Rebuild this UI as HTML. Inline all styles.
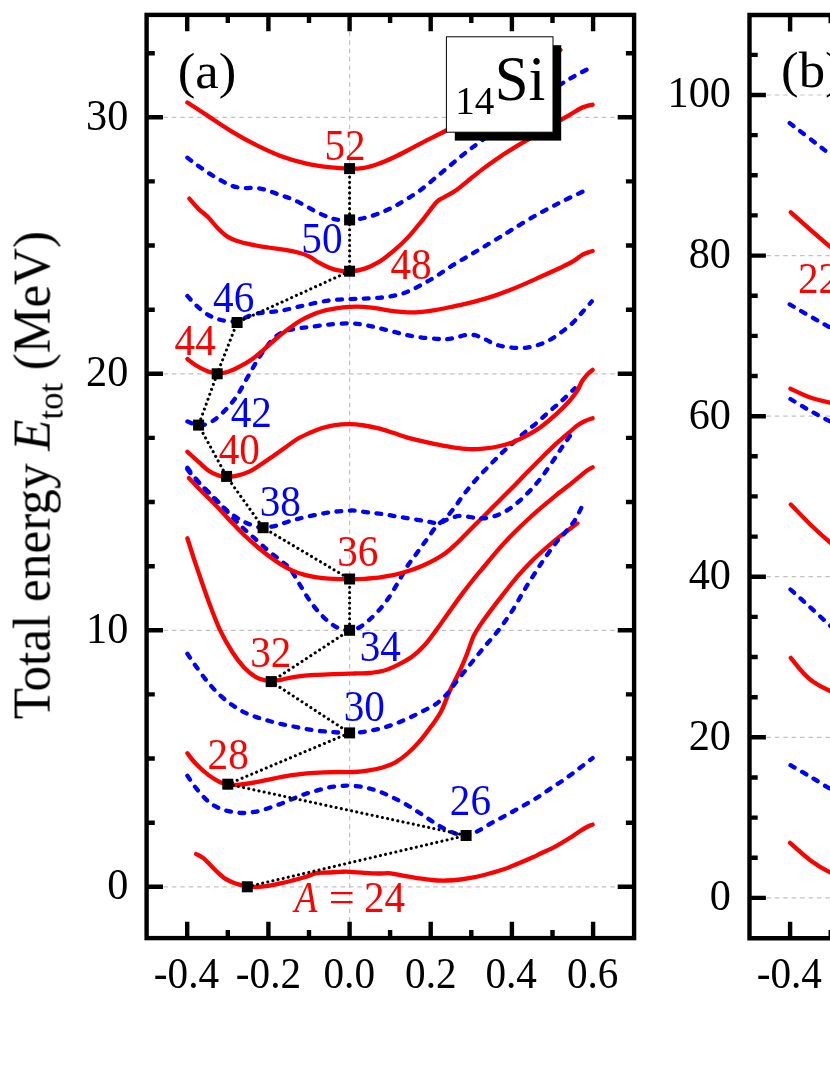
<!DOCTYPE html>
<html><head><meta charset="utf-8"><title>chart</title>
<style>html,body{margin:0;padding:0;background:#fff}body{width:830px;height:1075px;overflow:hidden}svg{display:block}text{font-family:"Liberation Serif",serif}</style>
</head><body>
<svg width="830" height="1075" viewBox="0 0 830 1075">
<rect width="830" height="1075" fill="#fff"/>
<g stroke="#c2c2c2" stroke-width="1.2" stroke-dasharray="4.5 3.93" fill="none">
<path d="M146.6 886.8H634.1"/>
<path d="M146.6 630.3H634.1"/>
<path d="M146.6 373.8H634.1"/>
<path d="M146.6 117.3H634.1"/>
<path d="M349.6 14.9V938.1"/>
<path d="M749.5 897.9H840"/>
<path d="M749.5 737.3H840"/>
<path d="M749.5 576.7H840"/>
<path d="M749.5 416.2H840"/>
<path d="M749.5 255.6H840"/>
<path d="M749.5 95.0H840"/>
</g>
<g fill="none" stroke-width="4.3" stroke-linecap="round" stroke-linejoin="round">
<path d="M196.1 854.0C197.3 854.7 201.0 856.2 203.4 858.1C205.8 860.0 208.2 862.9 210.6 865.3C213.0 867.7 215.4 870.3 217.8 872.5C220.2 874.7 222.7 877.0 225.1 878.6C227.5 880.2 229.9 881.2 232.3 882.2C234.7 883.2 237.0 883.9 239.5 884.6C242.0 885.3 244.4 885.9 247.2 886.3C250.0 886.7 252.9 887.1 256.4 887.0C259.9 886.9 264.4 886.4 268.4 885.8C272.4 885.2 276.5 884.3 280.5 883.4C284.5 882.5 288.5 881.5 292.5 880.5C296.5 879.5 301.0 878.4 304.6 877.3C308.2 876.2 311.8 874.5 314.2 873.7C316.6 873.0 316.6 873.0 319.0 872.8C321.4 872.6 325.1 872.7 328.7 872.5C332.3 872.3 337.2 871.9 340.7 871.8C344.2 871.7 345.7 871.6 349.6 871.8C353.5 872.0 359.3 872.5 364.1 872.8C368.9 873.1 374.2 873.4 378.6 873.5C383.0 873.6 386.6 872.9 390.6 873.3C394.6 873.7 398.3 874.9 402.7 875.7C407.1 876.5 412.3 877.4 417.1 878.1C421.9 878.8 426.8 879.6 431.6 880.0C436.4 880.4 441.2 880.6 446.0 880.5C450.8 880.4 455.7 880.1 460.5 879.5C465.3 878.9 470.1 878.1 474.9 877.1C479.7 876.1 484.6 874.8 489.4 873.5C494.2 872.2 499.1 870.9 503.9 869.2C508.7 867.6 513.5 865.6 518.3 863.6C523.1 861.6 529.0 859.0 532.8 857.3C536.6 855.6 537.4 855.0 541.2 853.2C545.0 851.4 550.9 848.9 555.7 846.3C560.5 843.7 566.1 840.3 570.1 837.8C574.1 835.3 577.0 833.1 579.8 831.3C582.6 829.5 584.9 828.1 587.0 827.0C589.1 825.9 591.7 825.0 592.6 824.6" stroke="#ff0000"/>
<path d="M187.4 775.7C188.8 777.8 192.6 783.9 196.1 788.2C199.6 792.5 204.2 798.0 208.2 801.4C212.2 804.8 216.2 807.0 220.2 808.7C224.2 810.4 228.3 811.1 232.3 811.8C236.3 812.5 240.3 813.0 244.3 813.0C248.3 813.0 252.4 812.4 256.4 811.6C260.4 810.8 264.4 809.5 268.4 808.2C272.4 806.9 276.5 805.4 280.5 803.9C284.5 802.4 288.5 800.6 292.5 799.0C296.5 797.4 300.6 795.6 304.6 794.2C308.6 792.8 312.6 791.7 316.6 790.6C320.6 789.5 324.7 788.3 328.7 787.5C332.7 786.7 337.2 786.3 340.7 786.0C344.2 785.7 345.7 785.4 349.6 785.6C353.5 785.8 359.3 786.2 364.1 787.2C368.9 788.2 373.8 789.6 378.6 791.3C383.4 793.0 388.2 795.3 393.0 797.6C397.8 799.9 402.7 802.5 407.5 805.3C412.3 808.1 417.1 811.4 421.9 814.5C426.7 817.6 431.6 821.2 436.4 824.1C441.2 827.0 445.9 829.8 450.8 831.8C455.7 833.8 461.4 836.0 466.0 835.8C470.6 835.6 474.1 832.9 478.6 830.6C483.1 828.3 488.2 824.9 493.0 822.2C497.8 819.5 502.7 817.1 507.5 814.5C512.3 811.9 517.1 809.2 521.9 806.5C526.7 803.8 531.6 801.1 536.4 798.1C541.2 795.1 546.0 791.6 550.8 788.4C555.6 785.2 560.5 782.2 565.3 778.8C570.1 775.4 575.2 771.5 579.8 768.0C584.3 764.5 590.5 759.7 592.6 758.1" stroke="#0000ff" stroke-dasharray="4.8 8.6"/>
<path d="M187.4 753.3C188.8 755.1 192.6 760.5 196.1 764.1C199.6 767.7 204.2 771.9 208.2 774.9C212.2 777.9 216.9 780.6 220.2 782.2C223.5 783.8 224.8 784.0 228.0 784.4C231.2 784.8 234.8 785.0 239.5 784.6C244.2 784.2 250.8 783.2 256.4 782.2C262.0 781.2 267.7 779.7 273.3 778.6C278.9 777.5 284.5 776.3 290.1 775.4C295.7 774.5 301.4 773.8 307.0 773.3C312.6 772.8 318.3 772.5 323.9 772.3C329.5 772.1 335.6 772.0 340.7 772.0C345.8 772.0 349.8 772.3 354.5 772.0C359.2 771.7 364.1 771.2 368.9 770.4C373.7 769.6 379.0 768.5 383.4 767.2C387.8 765.9 391.4 764.7 395.4 762.4C399.4 760.1 403.5 757.0 407.5 753.5C411.5 750.0 415.5 746.0 419.5 741.4C423.5 736.8 428.0 730.8 431.6 725.8C435.2 720.8 438.2 717.0 441.2 711.3C444.2 705.5 446.6 697.8 449.6 691.3C452.6 684.8 456.5 678.0 459.3 672.0C462.1 666.0 464.1 661.2 466.5 655.2C468.9 649.2 471.3 641.1 473.7 635.9C476.1 630.7 478.2 628.1 481.0 623.9C483.8 619.7 487.0 615.4 490.6 610.6C494.2 605.8 498.3 600.5 502.7 594.9C507.1 589.3 512.3 582.5 517.1 576.9C521.9 571.3 526.8 566.0 531.6 561.2C536.4 556.4 541.2 552.2 546.0 548.0C550.8 543.8 556.5 539.1 560.5 535.9C564.5 532.7 567.3 530.8 570.1 528.7C572.9 526.6 576.1 524.3 577.3 523.4" stroke="#ff0000"/>
<path d="M187.4 653.7C188.8 655.8 192.6 661.7 196.1 666.5C199.6 671.3 204.2 677.8 208.2 682.6C212.2 687.4 216.2 691.6 220.2 695.4C224.2 699.1 228.3 702.3 232.3 705.1C236.3 707.9 240.3 710.3 244.3 712.3C248.3 714.3 252.4 715.7 256.4 717.1C260.4 718.5 264.4 719.6 268.4 720.7C272.4 721.8 276.5 723.0 280.5 723.9C284.5 724.8 288.5 725.5 292.5 726.3C296.5 727.1 300.6 728.0 304.6 728.7C308.6 729.4 312.6 730.1 316.6 730.6C320.6 731.1 325.1 731.5 328.7 731.8C332.3 732.1 334.8 732.3 338.3 732.5C341.8 732.7 345.3 733.1 349.6 733.0C353.9 732.9 359.3 732.5 364.1 731.8C368.9 731.1 373.8 730.1 378.6 728.9C383.4 727.7 388.2 726.3 393.0 724.6C397.8 722.9 402.7 720.8 407.5 718.6C412.3 716.4 417.1 714.1 421.9 711.6C426.7 709.1 432.0 706.9 436.4 703.7C440.8 700.5 445.4 695.8 448.4 692.5C451.4 689.2 451.1 688.5 454.5 684.1C457.9 679.7 464.1 672.0 468.9 666.0C473.7 660.0 478.6 653.8 483.4 648.0C488.2 642.2 493.0 637.3 497.8 631.1C502.6 624.9 507.9 617.4 512.3 610.6C516.7 603.8 520.3 596.7 524.3 590.1C528.3 583.5 532.8 576.4 536.4 570.8C540.0 565.2 542.8 561.0 546.0 556.4C549.2 551.8 552.5 547.1 555.7 543.1C558.9 539.1 562.1 536.1 565.3 532.3C568.5 528.5 572.2 524.4 574.9 520.2C577.6 516.0 580.6 509.2 581.7 507.0" stroke="#0000ff" stroke-dasharray="4.8 8.6"/>
<path d="M187.4 538.2C188.8 542.7 192.6 555.0 196.1 565.3C199.6 575.6 204.2 589.4 208.2 600.2C212.2 611.1 216.2 621.8 220.2 630.4C224.2 639.0 228.3 645.8 232.3 652.0C236.3 658.2 240.3 663.5 244.3 667.7C248.3 671.9 252.8 675.2 256.4 677.3C260.0 679.4 263.5 679.9 266.0 680.5C268.5 681.1 268.9 681.3 271.3 681.2C273.7 681.1 276.6 680.5 280.5 679.8C284.4 679.1 289.3 677.7 294.9 676.9C300.5 676.1 307.8 675.3 314.2 674.9C320.6 674.5 327.6 674.4 333.5 674.2C339.4 674.0 346.1 673.7 349.6 673.6C353.1 673.5 351.3 673.6 354.5 673.5C357.7 673.4 364.1 673.5 368.9 673.0C373.7 672.5 378.6 672.2 383.4 670.8C388.2 669.4 393.0 667.2 397.8 664.8C402.6 662.4 407.9 659.6 412.3 656.4C416.7 653.2 420.3 649.9 424.3 645.5C428.3 641.1 432.4 635.3 436.4 629.9C440.4 624.5 444.4 618.6 448.4 613.0C452.4 607.4 456.5 601.5 460.5 596.1C464.5 590.7 468.5 585.5 472.5 580.5C476.5 575.5 480.6 570.8 484.6 566.0C488.6 561.2 492.6 556.2 496.6 551.6C500.6 547.0 504.7 542.5 508.7 538.3C512.7 534.1 516.7 530.2 520.7 526.3C524.7 522.4 529.4 518.1 532.8 515.0C536.2 511.9 537.4 510.8 541.2 507.6C545.0 504.4 550.9 499.5 555.7 495.6C560.5 491.7 566.1 487.6 570.1 484.4C574.1 481.2 577.0 478.7 579.8 476.4C582.6 474.1 584.9 472.1 587.0 470.6C589.1 469.1 591.7 467.8 592.6 467.3" stroke="#ff0000"/>
<path d="M187.4 469.4C188.8 471.1 192.6 476.1 196.1 479.8C199.6 483.5 204.2 487.8 208.2 491.8C212.2 495.8 216.2 499.7 220.2 503.9C224.2 508.1 228.3 512.9 232.3 517.1C236.3 521.3 240.3 525.4 244.3 529.2C248.3 533.0 252.4 536.4 256.4 540.0C260.4 543.6 264.4 547.4 268.4 550.8C272.4 554.2 276.9 557.5 280.5 560.5C284.1 563.5 286.9 564.9 290.1 568.9C293.3 572.9 296.6 579.4 299.8 584.6C303.0 589.8 306.2 595.6 309.4 600.2C312.6 604.8 315.8 608.7 319.0 612.3C322.2 615.9 325.5 619.3 328.7 621.9C331.9 624.5 334.8 626.6 338.3 628.0C341.8 629.4 346.1 630.5 349.6 630.4C353.1 630.3 356.1 629.2 359.3 627.5C362.5 625.8 365.7 623.0 368.9 620.2C372.1 617.4 375.4 614.2 378.6 610.6C381.8 607.0 385.0 603.2 388.2 598.6C391.4 594.0 394.6 588.3 397.8 582.9C401.0 577.5 404.3 571.0 407.5 566.0C410.7 561.0 413.9 557.2 417.1 552.8C420.3 548.4 423.5 543.9 426.7 539.5C429.9 535.1 433.2 529.9 436.4 526.3C439.6 522.7 442.8 521.2 446.0 517.8C449.2 514.4 452.5 510.0 455.7 505.8C458.9 501.6 461.9 496.9 465.3 492.5C468.7 488.1 472.3 483.9 476.1 479.6C479.9 475.3 484.2 471.0 488.2 466.8C492.2 462.6 496.2 458.4 500.2 454.5C504.2 450.6 508.3 447.2 512.3 443.6C516.3 440.0 520.3 436.2 524.3 432.8C528.3 429.4 532.4 426.5 536.4 423.1C540.4 419.7 544.4 415.8 548.4 412.3C552.4 408.8 556.9 405.1 560.5 401.9C564.1 398.7 567.7 395.3 570.1 393.0C572.5 390.7 574.1 389.0 574.9 388.2" stroke="#0000ff" stroke-dasharray="4.8 8.6"/>
<path d="M188.9 478.1C190.5 479.8 195.4 484.9 198.6 488.2C201.8 491.5 204.6 494.2 208.2 497.8C211.8 501.4 216.2 505.7 220.2 509.9C224.2 514.1 228.3 518.9 232.3 523.1C236.3 527.3 240.3 531.4 244.3 535.2C248.3 539.0 252.4 542.6 256.4 546.0C260.4 549.4 264.4 552.7 268.4 555.7C272.4 558.7 276.5 561.6 280.5 564.1C284.5 566.6 288.5 568.8 292.5 570.6C296.5 572.4 300.6 573.8 304.6 574.9C308.6 576.0 312.6 576.7 316.6 577.3C320.6 577.9 323.2 578.3 328.7 578.6C334.2 578.9 343.7 579.2 349.6 579.2C355.5 579.2 359.3 579.1 364.1 578.8C368.9 578.5 373.8 578.2 378.6 577.6C383.4 577.0 388.2 576.2 393.0 575.2C397.8 574.2 402.7 572.8 407.5 571.3C412.3 569.8 417.1 568.1 421.9 566.0C426.7 563.9 432.4 561.0 436.4 558.8C440.4 556.6 442.8 555.2 446.0 552.8C449.2 550.4 452.5 547.3 455.7 544.3C458.9 541.3 462.1 537.9 465.3 534.7C468.5 531.5 471.7 528.3 474.9 525.1C478.1 521.9 481.4 518.6 484.6 515.4C487.8 512.2 491.0 509.0 494.2 505.8C497.4 502.6 500.7 499.3 503.9 496.1C507.1 492.9 509.7 490.4 513.5 486.5C517.3 482.6 522.1 477.5 526.7 472.8C531.3 468.1 536.4 463.0 541.2 458.2C546.0 453.4 550.9 448.6 555.7 444.2C560.5 439.8 566.5 434.7 570.1 431.6C573.7 428.5 574.9 427.2 577.3 425.5C579.7 423.8 582.0 422.4 584.6 421.2C587.2 420.0 591.3 418.7 592.6 418.2" stroke="#ff0000"/>
<path d="M187.4 467.8C188.8 469.7 192.6 474.9 196.1 479.0C199.6 483.1 204.2 488.1 208.2 492.3C212.2 496.6 216.2 500.8 220.2 504.5C224.2 508.2 228.3 511.7 232.3 514.6C236.3 517.5 240.3 520.0 244.3 522.0C248.3 524.0 253.3 525.6 256.4 526.6C259.5 527.6 259.9 527.8 263.1 527.7C266.3 527.6 271.2 526.9 275.7 525.8C280.2 524.7 285.3 522.4 290.1 521.0C294.9 519.6 299.0 518.6 304.6 517.3C310.2 516.0 318.3 514.3 323.9 513.3C329.5 512.3 334.0 511.8 338.3 511.3C342.6 510.9 346.9 510.7 349.6 510.6C352.3 510.5 351.3 510.3 354.5 510.6C357.7 510.9 364.1 511.9 368.9 512.5C373.7 513.1 378.6 513.5 383.4 514.2C388.2 514.9 393.0 515.8 397.8 516.6C402.6 517.4 407.5 518.2 412.3 519.0C417.1 519.8 422.3 520.7 426.7 521.4C431.1 522.1 435.2 523.5 438.8 523.1C442.4 522.7 444.8 520.2 448.4 519.0C452.0 517.8 456.1 516.1 460.5 515.9C464.9 515.7 470.9 517.4 474.9 517.8C478.9 518.2 481.0 518.7 484.6 518.3C488.2 517.9 492.6 516.9 496.6 515.4C500.6 513.9 504.7 512.0 508.7 509.4C512.7 506.8 516.7 503.4 520.7 499.8C524.7 496.2 529.0 491.9 532.8 487.7C536.6 483.5 539.8 479.6 543.6 474.5C547.4 469.4 552.1 462.2 555.7 456.9C559.3 451.5 562.1 447.0 565.3 442.4C568.5 437.8 573.3 431.4 574.9 429.2" stroke="#0000ff" stroke-dasharray="4.8 8.6"/>
<path d="M187.4 451.8C189.3 453.5 195.1 458.8 198.6 461.9C202.1 465.0 205.0 468.2 208.2 470.4C211.4 472.6 214.7 474.1 217.8 475.2C220.9 476.3 223.5 477.0 226.7 477.1C229.9 477.2 233.3 476.6 237.1 475.7C240.8 474.8 245.2 473.5 249.2 471.6C253.2 469.7 257.2 466.9 261.2 464.3C265.2 461.7 269.3 458.7 273.3 455.9C277.3 453.1 281.3 450.3 285.3 447.5C289.3 444.7 293.3 441.4 297.3 439.0C301.3 436.6 305.4 434.8 309.4 433.0C313.4 431.2 317.4 429.5 321.4 428.2C325.4 426.9 328.8 426.0 333.5 425.3C338.2 424.6 344.5 424.2 349.6 424.2C354.7 424.2 359.3 424.8 364.1 425.5C368.9 426.2 373.8 427.2 378.6 428.4C383.4 429.6 388.2 431.3 393.0 432.8C397.8 434.3 402.7 436.2 407.5 437.6C412.3 439.0 417.1 440.1 421.9 441.2C426.7 442.3 431.0 443.2 436.4 444.3C441.8 445.4 449.1 446.9 454.5 447.7C459.9 448.5 464.1 449.0 468.9 449.2C473.7 449.4 478.6 449.1 483.4 448.7C488.2 448.2 493.0 447.6 497.8 446.5C502.6 445.4 507.5 444.2 512.3 442.4C517.1 440.6 521.9 438.3 526.7 435.7C531.5 433.1 536.4 430.2 541.2 426.7C546.0 423.2 550.9 419.1 555.7 414.7C560.5 410.3 566.5 404.2 570.1 400.2C573.7 396.2 575.3 393.8 577.3 390.6C579.3 387.4 580.6 383.6 582.2 381.0C583.8 378.4 585.3 376.8 587.0 374.9C588.7 373.0 591.7 370.7 592.6 369.9" stroke="#ff0000"/>
<path d="M187.4 421.5C189.3 422.1 195.1 425.0 198.6 425.3C202.1 425.6 205.0 424.7 208.2 423.4C211.4 422.1 214.6 419.9 217.8 417.3C221.0 414.7 224.3 411.3 227.5 407.7C230.7 404.1 233.9 400.5 237.1 395.7C240.3 390.9 243.5 384.4 246.7 378.8C249.9 373.2 253.2 367.1 256.4 361.9C259.6 356.7 262.8 351.7 266.0 347.5C269.2 343.3 272.5 339.3 275.7 336.6C278.9 333.9 282.1 332.4 285.3 331.1C288.5 329.8 290.9 329.6 294.9 328.9C298.9 328.2 303.8 327.7 309.4 327.0C315.0 326.3 322.0 325.2 328.7 324.6C335.4 324.0 343.7 323.3 349.6 323.3C355.5 323.3 359.3 324.0 364.1 324.8C368.9 325.6 373.8 326.9 378.6 328.0C383.4 329.1 388.2 330.4 393.0 331.6C397.8 332.8 402.7 334.2 407.5 335.2C412.3 336.2 417.1 337.0 421.9 337.6C426.7 338.2 432.4 338.5 436.4 338.8C440.4 339.1 442.8 339.5 446.0 339.3C449.2 339.1 452.5 338.3 455.7 337.6C458.9 336.9 462.1 335.6 465.3 335.2C468.5 334.8 471.7 334.6 474.9 335.2C478.1 335.8 481.2 337.5 484.6 339.0C488.0 340.5 491.4 343.0 495.4 344.4C499.4 345.8 504.1 346.6 508.7 347.2C513.3 347.8 518.5 348.3 523.1 348.0C527.7 347.7 532.2 346.7 536.4 345.5C540.6 344.3 544.4 342.8 548.4 340.7C552.4 338.6 556.5 335.7 560.5 332.8C564.5 329.9 568.9 326.5 572.5 323.1C576.1 319.7 579.0 315.9 582.2 312.3C585.4 308.7 590.2 303.2 591.8 301.4" stroke="#0000ff" stroke-dasharray="4.8 8.6"/>
<path d="M187.4 359.0C188.8 360.1 192.6 363.4 196.1 365.5C199.6 367.6 204.7 370.3 208.2 371.6C211.7 372.9 213.9 373.4 217.1 373.5C220.3 373.6 223.8 373.1 227.5 372.0C231.2 370.9 235.5 368.8 239.5 366.7C243.5 364.6 247.6 362.3 251.6 359.5C255.6 356.7 259.6 353.3 263.6 349.9C267.6 346.5 271.7 342.4 275.7 339.0C279.7 335.6 283.7 332.4 287.7 329.4C291.7 326.4 295.8 323.4 299.8 321.0C303.8 318.6 307.8 316.6 311.8 314.9C315.8 313.2 319.9 311.9 323.9 310.8C327.9 309.7 331.6 309.1 335.9 308.4C340.2 307.7 344.9 307.1 349.6 306.8C354.3 306.5 359.3 306.5 364.1 306.8C368.9 307.1 373.8 308.0 378.6 308.7C383.4 309.4 388.2 310.5 393.0 311.1C397.8 311.7 402.7 312.2 407.5 312.3C412.3 312.4 417.1 312.2 421.9 311.8C426.7 311.4 431.6 310.7 436.4 309.9C441.2 309.1 446.0 308.0 450.8 307.0C455.6 306.0 460.5 305.0 465.3 303.9C470.1 302.8 475.0 301.5 479.8 300.2C484.6 298.9 489.4 297.5 494.2 295.9C499.0 294.3 503.9 292.5 508.7 290.6C513.5 288.7 518.5 286.6 523.1 284.6C527.7 282.6 530.2 281.4 536.4 278.6C542.6 275.8 554.5 270.5 560.5 267.7C566.5 264.9 568.9 263.8 572.5 261.7C576.1 259.6 579.4 256.5 582.2 254.9C585.0 253.3 587.7 252.7 589.4 252.0C591.1 251.3 592.1 251.1 592.6 251.0" stroke="#ff0000"/>
<path d="M187.4 296.0C188.8 297.5 192.6 302.1 196.1 305.3C199.6 308.5 204.2 312.5 208.2 314.9C212.2 317.3 216.2 318.7 220.2 319.8C224.2 320.9 228.7 321.6 232.3 321.5C235.9 321.4 237.9 320.3 241.9 319.0C245.9 317.7 250.0 315.1 256.4 313.7C262.8 312.3 272.5 312.2 280.5 310.8C288.5 309.4 296.6 307.0 304.6 305.3C312.6 303.6 321.2 301.5 328.7 300.5C336.2 299.5 343.7 299.4 349.6 299.1C355.5 298.8 359.3 298.8 364.1 298.6C368.9 298.4 373.8 298.2 378.6 297.8C383.4 297.4 388.2 296.9 393.0 295.9C397.8 294.9 402.7 293.7 407.5 291.8C412.3 289.9 417.1 287.2 421.9 284.6C426.7 282.0 431.6 279.1 436.4 276.1C441.2 273.1 446.0 269.6 450.8 266.5C455.6 263.4 460.5 260.7 465.3 257.8C470.1 254.9 475.0 252.1 479.8 249.2C484.6 246.3 488.8 243.9 494.2 240.6C499.6 237.3 505.3 233.8 512.3 229.5C519.3 225.2 528.4 219.5 536.4 215.0C544.4 210.5 552.8 206.2 560.5 202.3C568.2 198.4 578.9 193.5 582.6 191.7" stroke="#0000ff" stroke-dasharray="4.8 8.6"/>
<path d="M189.4 198.6C190.9 200.3 195.5 205.8 198.6 208.9C201.7 212.0 205.0 214.1 208.2 217.3C211.4 220.5 214.6 225.0 217.8 228.2C221.0 231.4 224.3 234.5 227.5 236.6C230.7 238.7 233.1 239.7 237.1 241.0C241.1 242.3 246.4 243.5 251.6 244.6C256.8 245.7 262.8 246.6 268.4 247.5C274.0 248.4 280.1 249.0 285.3 249.9C290.5 250.8 295.8 251.9 299.8 253.0C303.8 254.1 306.2 255.0 309.4 256.6C312.6 258.2 315.8 260.9 319.0 262.7C322.2 264.5 325.5 266.2 328.7 267.5C331.9 268.8 334.8 269.8 338.3 270.4C341.8 271.0 345.3 271.6 349.6 271.4C353.9 271.1 359.3 270.4 364.1 268.9C368.9 267.4 373.8 265.1 378.6 262.2C383.4 259.3 388.2 255.4 393.0 251.4C397.8 247.4 402.7 243.0 407.5 237.9C412.3 232.8 417.1 226.7 421.9 220.8C426.7 214.9 432.8 206.2 436.4 202.3C440.0 198.4 440.4 199.4 443.6 197.5C446.8 195.6 451.3 193.7 455.7 190.6C460.1 187.5 465.3 182.8 470.1 179.0C474.9 175.2 479.8 171.2 484.6 167.6C489.4 164.0 494.2 160.7 499.0 157.4C503.8 154.2 508.7 151.1 513.5 148.1C518.3 145.1 522.8 142.7 528.0 139.6C533.2 136.5 539.5 132.8 545.0 129.5C550.5 126.2 556.9 122.3 561.2 119.7C565.5 117.1 567.6 116.0 570.9 114.1C574.2 112.1 578.5 109.4 581.2 108.0C583.9 106.6 585.4 106.5 587.3 105.9C589.2 105.3 591.7 104.9 592.6 104.7" stroke="#ff0000"/>
<path d="M187.4 157.7C188.8 158.8 192.6 161.8 196.1 164.3C199.6 166.8 204.2 170.2 208.2 172.8C212.2 175.4 216.2 177.8 220.2 180.0C224.2 182.2 228.3 184.7 232.3 186.0C236.3 187.3 240.3 187.8 244.3 188.1C248.3 188.4 252.4 187.5 256.4 187.9C260.4 188.3 264.4 189.5 268.4 190.7C272.4 191.9 276.5 193.8 280.5 195.2C284.5 196.6 288.5 197.6 292.5 199.3C296.5 201.0 300.6 203.2 304.6 205.3C308.6 207.4 312.6 210.0 316.6 212.0C320.6 214.0 325.1 216.0 328.7 217.3C332.3 218.6 334.8 219.3 338.3 219.8C341.8 220.3 345.3 220.5 349.6 220.2C353.9 219.9 359.3 219.1 364.1 218.0C368.9 216.9 373.8 215.4 378.6 213.6C383.4 211.8 388.2 209.6 393.0 207.1C397.8 204.6 402.7 201.7 407.5 198.7C412.3 195.7 417.1 192.6 421.9 189.0C426.7 185.4 431.6 181.0 436.4 177.0C441.2 173.0 446.0 168.9 450.8 164.9C455.6 160.9 460.5 156.7 465.3 152.9C470.1 149.1 474.0 146.3 479.8 142.0C485.6 137.7 491.6 133.2 500.0 127.0C508.4 120.8 519.9 112.1 530.0 105.0C540.1 97.9 553.0 89.4 560.5 84.5C568.0 79.6 570.6 78.3 575.0 75.8C579.4 73.3 585.0 70.5 587.0 69.5" stroke="#0000ff" stroke-dasharray="4.8 8.6"/>
<path d="M187.4 102.5C190.9 104.7 200.7 111.2 208.2 116.1C215.7 121.0 224.3 127.0 232.3 131.8C240.3 136.6 248.4 141.1 256.4 145.1C264.4 149.1 272.5 152.9 280.5 155.9C288.5 158.9 296.6 161.2 304.6 163.1C312.6 165.0 321.2 166.3 328.7 167.2C336.2 168.1 343.7 168.6 349.6 168.7C355.5 168.8 359.3 168.6 364.1 167.8C368.9 167.0 373.8 165.4 378.6 163.7C383.4 162.0 388.2 159.9 393.0 157.7C397.8 155.5 402.7 153.0 407.5 150.5C412.3 148.0 417.1 145.3 421.9 142.8C426.7 140.3 432.2 137.6 436.4 135.5C440.6 133.4 441.6 133.1 447.2 130.0C452.8 126.9 461.2 122.5 470.0 117.0C478.8 111.5 490.0 104.2 500.0 97.0C510.0 89.8 521.7 80.5 530.0 74.0C538.3 67.5 544.9 62.0 550.0 58.0C555.1 54.0 558.8 51.3 560.5 50.0" stroke="#ff0000"/>
<path d="M789.7 123.1C796.4 128.3 820.0 146.5 830.0 154.3C840.0 162.1 846.7 167.4 850.0 170.0" stroke="#0000ff" stroke-dasharray="4.8 8.6"/>
<path d="M790.8 212.3C797.3 218.1 820.1 238.3 830.0 246.6C839.9 254.9 846.7 259.4 850.0 262.0" stroke="#ff0000"/>
<path d="M789.7 304.4C795.4 307.7 813.7 318.4 823.7 324.0C833.8 329.6 845.6 335.7 850.0 338.0" stroke="#0000ff" stroke-dasharray="4.8 8.6"/>
<path d="M790.5 388.7C793.7 390.1 803.0 394.9 809.6 397.2C816.2 399.5 823.3 401.1 830.0 402.6C836.7 404.1 846.7 405.4 850.0 406.0" stroke="#ff0000"/>
<path d="M790.5 399.0C793.7 400.9 803.0 406.8 809.6 410.5C816.2 414.2 823.3 418.0 830.0 421.4C836.7 424.8 846.7 429.4 850.0 431.0" stroke="#0000ff" stroke-dasharray="4.8 8.6"/>
<path d="M790.8 504.5C793.9 507.7 803.1 517.4 809.6 523.7C816.1 530.0 823.3 536.5 830.0 542.5C836.7 548.5 846.7 557.1 850.0 560.0" stroke="#ff0000"/>
<path d="M790.5 589.5C793.7 592.4 803.0 600.7 809.6 606.7C816.2 612.7 823.3 619.5 830.0 625.5C836.7 631.5 846.7 640.1 850.0 643.0" stroke="#0000ff" stroke-dasharray="4.8 8.6"/>
<path d="M790.8 657.9C792.6 660.1 798.1 667.4 801.8 671.3C805.5 675.2 808.1 678.2 812.8 681.5C817.5 684.8 823.8 688.3 830.0 690.9C836.2 693.5 846.7 696.0 850.0 697.0" stroke="#ff0000"/>
<path d="M790.5 765.2C793.7 767.0 803.0 772.4 809.6 776.3C816.2 780.2 823.3 784.8 830.0 788.8C836.7 792.8 846.7 798.1 850.0 800.0" stroke="#0000ff" stroke-dasharray="4.8 8.6"/>
<path d="M790.0 842.9C793.4 845.8 803.8 855.5 810.5 860.4C817.2 865.3 823.4 869.0 830.0 872.3C836.6 875.6 846.7 878.7 850.0 880.0" stroke="#ff0000"/>
</g>
<path d="M247.3 886.8L466.1 835.5L227.8 784.2L349.6 732.9L271.2 681.6L349.6 630.3L349.6 579.0L263.1 527.7L226.6 476.4L198.6 425.1L217.2 373.8L237.1 322.5L349.6 271.2L349.6 219.9L349.6 168.6" fill="none" stroke="#000" stroke-width="3.1" stroke-linecap="round" stroke-dasharray="0.01 5.25"/>
<rect x="241.8" y="881.3" width="11" height="11" fill="#000"/>
<rect x="460.6" y="830.0" width="11" height="11" fill="#000"/>
<rect x="222.3" y="778.7" width="11" height="11" fill="#000"/>
<rect x="344.1" y="727.4" width="11" height="11" fill="#000"/>
<rect x="265.7" y="676.1" width="11" height="11" fill="#000"/>
<rect x="344.1" y="624.8" width="11" height="11" fill="#000"/>
<rect x="344.1" y="573.5" width="11" height="11" fill="#000"/>
<rect x="257.6" y="522.2" width="11" height="11" fill="#000"/>
<rect x="221.1" y="470.9" width="11" height="11" fill="#000"/>
<rect x="193.1" y="419.6" width="11" height="11" fill="#000"/>
<rect x="211.7" y="368.3" width="11" height="11" fill="#000"/>
<rect x="231.6" y="317.0" width="11" height="11" fill="#000"/>
<rect x="344.1" y="265.7" width="11" height="11" fill="#000"/>
<rect x="344.1" y="214.4" width="11" height="11" fill="#000"/>
<rect x="344.1" y="163.1" width="11" height="11" fill="#000"/>
<g stroke="#000" fill="none" stroke-width="4.4" stroke-linecap="butt">
<rect x="146.6" y="14.9" width="487.5" height="923.2"/>
<path d="M860 15.0H749.5V938.2H860"/>
<path d="M187.2 14.9v16.4M187.2 938.1v-16.4M227.8 14.9v8.2M227.8 938.1v-8.2M268.4 14.9v16.4M268.4 938.1v-16.4M309.0 14.9v8.2M309.0 938.1v-8.2M349.6 14.9v16.4M349.6 938.1v-16.4M390.1 14.9v8.2M390.1 938.1v-8.2M430.7 14.9v16.4M430.7 938.1v-16.4M471.3 14.9v8.2M471.3 938.1v-8.2M511.9 14.9v16.4M511.9 938.1v-16.4M552.5 14.9v8.2M552.5 938.1v-8.2M593.1 14.9v16.4M593.1 938.1v-16.4M146.6 886.8h16.4M634.1 886.8h-16.4M146.6 822.7h8.2M634.1 822.7h-8.2M146.6 758.5h8.2M634.1 758.5h-8.2M146.6 694.4h8.2M634.1 694.4h-8.2M146.6 630.3h16.4M634.1 630.3h-16.4M146.6 566.2h8.2M634.1 566.2h-8.2M146.6 502.0h8.2M634.1 502.0h-8.2M146.6 437.9h8.2M634.1 437.9h-8.2M146.6 373.8h16.4M634.1 373.8h-16.4M146.6 309.7h8.2M634.1 309.7h-8.2M146.6 245.5h8.2M634.1 245.5h-8.2M146.6 181.4h8.2M634.1 181.4h-8.2M146.6 117.3h16.4M634.1 117.3h-16.4M146.6 53.2h8.2M634.1 53.2h-8.2M790.1 15.0v16.4M790.1 938.2v-16.4M830.7 15.0v8.2M830.7 938.2v-8.2M871.3 15.0v16.4M871.3 938.2v-16.4M911.9 15.0v8.2M911.9 938.2v-8.2M952.5 15.0v16.4M952.5 938.2v-16.4M993.0 15.0v8.2M993.0 938.2v-8.2M749.5 897.9h16.4M749.5 857.8h8.2M749.5 817.6h8.2M749.5 777.5h8.2M749.5 737.3h16.4M749.5 697.2h8.2M749.5 657.0h8.2M749.5 616.9h8.2M749.5 576.7h16.4M749.5 536.6h8.2M749.5 496.4h8.2M749.5 456.3h8.2M749.5 416.2h16.4M749.5 376.0h8.2M749.5 335.9h8.2M749.5 295.7h8.2M749.5 255.6h16.4M749.5 215.4h8.2M749.5 175.3h8.2M749.5 135.1h8.2M749.5 95.0h16.4M749.5 54.9h8.2"/>
</g>
<rect x="454.8" y="45.2" width="106.4" height="95.4" fill="#000"/>
<rect x="446.4" y="36.8" width="106.6" height="95.4" fill="#fff" stroke="#000" stroke-width="1"/>
<defs><filter id="idf" x="0" y="0" width="830" height="1075" filterUnits="userSpaceOnUse"><feOffset dx="0" dy="0"/></filter></defs><g filter="url(#idf)">
<text transform="translate(455.16 114.30) scale(0.9550 1)" font-size="41.00" fill="#000">14</text>
<text transform="translate(494.84 99.50) scale(0.9550 1)" font-size="63.60" fill="#000">Si</text>
<text transform="translate(153.85 988.00) scale(0.9450 1)" font-size="43.60" fill="#000">-0.4</text>
<text transform="translate(235.84 988.00) scale(0.9450 1)" font-size="43.60" fill="#000">-0.2</text>
<text transform="translate(323.51 988.00) scale(0.9450 1)" font-size="43.60" fill="#000">0.0</text>
<text transform="translate(405.04 988.00) scale(0.9450 1)" font-size="43.60" fill="#000">0.2</text>
<text transform="translate(485.41 988.00) scale(0.9450 1)" font-size="43.60" fill="#000">0.4</text>
<text transform="translate(566.88 988.00) scale(0.9450 1)" font-size="43.60" fill="#000">0.6</text>
<text transform="translate(756.74 988.30) scale(0.9450 1)" font-size="43.60" fill="#000">-0.4</text>
<text transform="translate(107.16 899.20) scale(0.9700 1)" font-size="43.60" fill="#000">0</text>
<text transform="translate(86.02 642.70) scale(0.9700 1)" font-size="43.60" fill="#000">10</text>
<text transform="translate(86.02 386.20) scale(0.9700 1)" font-size="43.60" fill="#000">20</text>
<text transform="translate(86.02 129.70) scale(0.9700 1)" font-size="43.60" fill="#000">30</text>
<text transform="translate(709.86 910.30) scale(0.9700 1)" font-size="43.60" fill="#000">0</text>
<text transform="translate(688.72 749.72) scale(0.9700 1)" font-size="43.60" fill="#000">20</text>
<text transform="translate(688.72 589.14) scale(0.9700 1)" font-size="43.60" fill="#000">40</text>
<text transform="translate(688.72 428.56) scale(0.9700 1)" font-size="43.60" fill="#000">60</text>
<text transform="translate(688.72 267.98) scale(0.9700 1)" font-size="43.60" fill="#000">80</text>
<text transform="translate(667.57 107.40) scale(0.9700 1)" font-size="43.60" fill="#000">100</text>
<text transform="translate(177.68 88.20) scale(1.0350 1)" font-size="51.00" fill="#000">(a)</text>
<text transform="translate(781.08 87.20) scale(1.0350 1)" font-size="51.00" fill="#000">(b)</text>
<text transform="translate(49.6 719.3) rotate(-90) scale(0.985 1)" font-size="52" fill="#000">Total energy <tspan font-style="italic">E</tspan><tspan font-size="35" dy="13">tot</tspan><tspan dy="-13"> (MeV)</tspan></text>
<text transform="translate(324.49 160.10) scale(0.9450 1)" font-size="43.60" fill="#ff0000">52</text>
<text transform="translate(301.29 252.60) scale(0.9450 1)" font-size="43.60" fill="#0000ff">50</text>
<text transform="translate(390.48 279.00) scale(0.9450 1)" font-size="43.60" fill="#ff0000">48</text>
<text transform="translate(213.11 311.50) scale(0.9450 1)" font-size="43.60" fill="#0000ff">46</text>
<text transform="translate(174.62 355.20) scale(0.9450 1)" font-size="43.60" fill="#ff0000">44</text>
<text transform="translate(230.63 426.50) scale(0.9450 1)" font-size="43.60" fill="#0000ff">42</text>
<text transform="translate(218.68 463.60) scale(0.9450 1)" font-size="43.60" fill="#ff0000">40</text>
<text transform="translate(259.70 516.30) scale(0.9450 1)" font-size="43.60" fill="#0000ff">38</text>
<text transform="translate(337.23 566.00) scale(0.9450 1)" font-size="43.60" fill="#ff0000">36</text>
<text transform="translate(359.69 661.20) scale(0.9450 1)" font-size="43.60" fill="#0000ff">34</text>
<text transform="translate(250.15 666.50) scale(0.9450 1)" font-size="43.60" fill="#ff0000">32</text>
<text transform="translate(343.65 721.00) scale(0.9450 1)" font-size="43.60" fill="#0000ff">30</text>
<text transform="translate(207.58 768.90) scale(0.9450 1)" font-size="43.60" fill="#ff0000">28</text>
<text transform="translate(449.81 815.40) scale(0.9450 1)" font-size="43.60" fill="#0000ff">26</text>
<text transform="translate(363.97 912.20) scale(0.9450 1)" font-size="43.60" fill="#ff0000">24</text>
<text transform="translate(328.65 912.20) scale(1.0600 1)" font-size="43.60" fill="#ff0000">=</text>
<text transform="translate(294.45 912.20) scale(0.8600 1)" font-size="43.60" fill="#ff0000" font-style="italic">A</text>
<text transform="translate(797.99 293.00) scale(0.9450 1)" font-size="43.60" fill="#ff0000">22</text>
</g></svg></body></html>
